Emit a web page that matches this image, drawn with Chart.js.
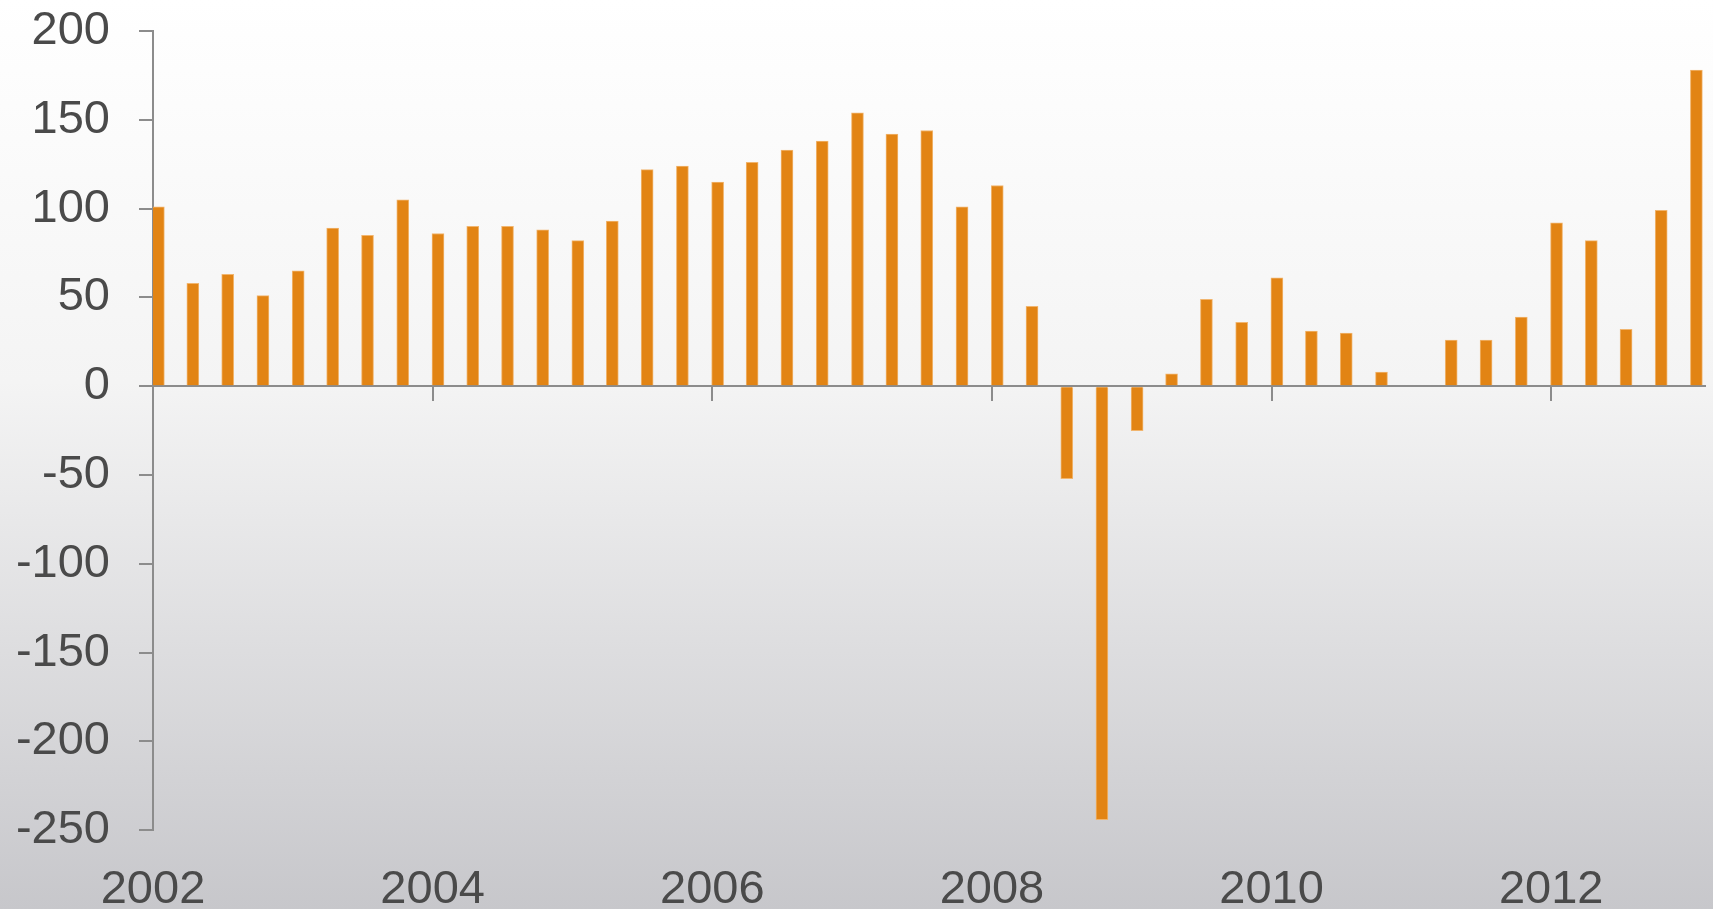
<!DOCTYPE html>
<html>
<head>
<meta charset="utf-8">
<script src="https://cdn.jsdelivr.net/npm/chart.js@4"></script>
<style>
  html, body { margin: 0; padding: 0; background: #ffffff; }
  #wrap { position: relative; width: 1713px; height: 909px; }
</style>
</head>
<body>
<div id="wrap"><canvas id="chart"></canvas></div>
<script>
// quarterly observations, dated mid-month of each quarter's first month
const dates = [
  '2002-01-15', '2002-04-15', '2002-07-15', '2002-10-15',
  '2003-01-15', '2003-04-15', '2003-07-15', '2003-10-15',
  '2004-01-15', '2004-04-15', '2004-07-15', '2004-10-15',
  '2005-01-15', '2005-04-15', '2005-07-15', '2005-10-15',
  '2006-01-15', '2006-04-15', '2006-07-15', '2006-10-15',
  '2007-01-15', '2007-04-15', '2007-07-15', '2007-10-15',
  '2008-01-15', '2008-04-15', '2008-07-15', '2008-10-15',
  '2009-01-15', '2009-04-15', '2009-07-15', '2009-10-15',
  '2010-01-15', '2010-04-15', '2010-07-15', '2010-10-15',
  '2011-01-15', '2011-04-15', '2011-07-15', '2011-10-15',
  '2012-01-15', '2012-04-15', '2012-07-15', '2012-10-15',
  '2013-01-15'
];

const values = [
  101, 58, 63, 51,
  65, 89, 85, 105,
  86, 90, 90, 88,
  82, 93, 122, 124,
  115, 126, 133, 138,
  154, 142, 144, 101,
  113, 45, -52, -244,
  -25, 7, 49, 36,
  61, 31, 30, 8,
  0, 26, 26, 39,
  92, 82, 32, 99,
  178
];

const yearTicks = [2002, 2004, 2006, 2008, 2010, 2012];

// turn a date string into a fractional year for the linear x axis
function toYear(s) {
  const d = new Date(s + 'T00:00:00Z');
  const y = d.getUTCFullYear();
  const start = Date.UTC(y, 0, 1);
  const end = Date.UTC(y + 1, 0, 1);
  return y + (d.getTime() - start) / (end - start);
}

const points = dates.map((d, i) => ({ x: toYear(d), y: values[i] }));

const axisColor = '#8c8c8c';
const labelColor = '#4a4a4a';
const labelFont = { family: "'Liberation Sans', Arial, sans-serif", size: 47 };

const backdrop = {
  id: 'backdrop',
  beforeDraw(chart) {
    const ctx = chart.ctx;
    const h = chart.height;
    const g = ctx.createLinearGradient(0, 0, 0, h);
    g.addColorStop(0, '#ffffff');
    g.addColorStop(0.42, '#f4f4f4');
    g.addColorStop(1, '#c7c7cb');
    ctx.save();
    ctx.fillStyle = g;
    ctx.fillRect(0, 0, chart.width, h);
    ctx.restore();
  }
};

function setYearTicks(scale) {
  scale.ticks = yearTicks.map(v => ({ value: v }));
}

new Chart(document.getElementById('chart').getContext('2d'), {
  type: 'bar',
  data: {
    datasets: [{
      data: points,
      xAxisID: 'x',
      yAxisID: 'y',
      backgroundColor: '#e28414',
      borderColor: '#f1b56e',
      borderWidth: 1,
      barThickness: 12
    }]
  },
  options: {
    responsive: true,
    maintainAspectRatio: false,
    animation: false,
    layout: { padding: { top: 31, right: 8, left: 0, bottom: 0 } },
    plugins: {
      legend: { display: false },
      tooltip: { enabled: false }
    },
    scales: {
      x: {
        type: 'linear',
        position: 'bottom',
        offset: false,
        min: 2002,
        max: 2013.1,
        afterBuildTicks: setYearTicks,
        afterFit(scale) {
          scale.height = 78.7;
          scale.paddingLeft = 0;
          scale.paddingRight = 0;
        },
        grid: { display: false, drawTicks: false, offset: false },
        border: { display: false },
        ticks: {
          color: labelColor,
          font: labelFont,
          padding: 32,
          maxRotation: 0,
          autoSkip: false,
          callback: v => String(v)
        }
      },
      xZero: {
        type: 'linear',
        position: { y: 0 },
        offset: false,
        min: 2002,
        max: 2013.1,
        z: 1,
        afterBuildTicks: setYearTicks,
        afterFit(scale) {
          scale.height = 0;
          scale.paddingLeft = 0;
          scale.paddingRight = 0;
        },
        grid: {
          offset: false,
          drawOnChartArea: false,
          drawTicks: true,
          tickLength: 14,
          color: axisColor,
          lineWidth: 2
        },
        border: { display: true, color: axisColor, width: 2 },
        ticks: { display: false }
      },
      y: {
        min: -250,
        max: 200,
        afterFit(scale) {
          scale.width = 153;
          scale.paddingTop = 0;
          scale.paddingBottom = 0;
        },
        grid: {
          drawOnChartArea: false,
          drawTicks: true,
          tickLength: 14,
          color: axisColor,
          lineWidth: 2
        },
        border: { display: true, color: axisColor, width: 2 },
        ticks: {
          stepSize: 50,
          color: labelColor,
          font: labelFont,
          padding: 29
        }
      }
    }
  },
  plugins: [backdrop]
});
</script>
</body>
</html>
